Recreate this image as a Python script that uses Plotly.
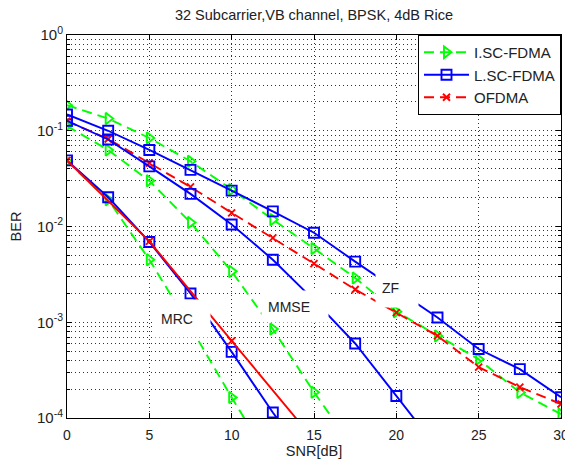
import math
import plotly.graph_objects as go

# ---------------- data ----------------
snr = [0, 2.5, 5, 7.5, 10, 12.5, 15, 17.5, 20, 22.5, 25, 27.5, 30]
snr_coarse = [0, 5, 10, 15]

# ZF
isc_zf = [0.185, 0.134, 0.084, 0.048, 0.0244, 0.0118, 0.0059, 0.0029, 0.00129, 7.2e-4, 4.1e-4, 1.85e-4, 1.1e-4]
lsc_zf = [0.148, 0.1, 0.063, 0.039, 0.0237, 0.0144, 0.0086, 0.0043, 0.0022, 0.00112, 5.25e-4, 3.24e-4, 1.65e-4]
ofdma_zf = [0.126, 0.082, 0.046, 0.0259, 0.0139, 0.0076, 0.0041, 0.0022, 0.00126, 7.2e-4, 3.4e-4, 2.1e-4, 1.4e-4]

# MMSE
isc_mmse = [0.112, 0.063, 0.03, 0.011, 0.0034, 8.5e-4, 1.86e-4, 4.6e-5]
lsc_mmse = [0.127, 0.081, 0.0425, 0.0219, 0.0105, 0.0045, 0.0017, 6.0e-4, 1.7e-4, 4.8e-5]

# MRC
isc_mrc = [0.048, 0.019, 0.0045, 8.9e-4, 1.64e-4, 3.2e-5]
lsc_mrc = [0.049, 0.0202, 0.0069, 0.0020, 4.9e-4, 1.14e-4, 3.0e-5]
ofdma_mrc = [0.049, 0.0070, 6.4e-4, 5.9e-5]   # at snr_coarse

y_tickvals = [1e-4, 1e-3, 1e-2, 1e-1, 1]
y_ticktext = ["10<sup>-4</sup>", "10<sup>-3</sup>", "10<sup>-2</sup>", "10<sup>-1</sup>", "10<sup>0</sup>"]
labels = ["ZF", "MMSE", "MRC"]
label_x = [20.02, 13.83, 7.01]
label_y = [2.28e-3, 1.46e-3, 1.1e-3]
label_w = [42, 66, 55]
label_h = [38, 31, 37]

FONT = "Liberation Sans, Arial, sans-serif"
GREEN = "#00ff00"
BLUE = "#0000ff"
RED = "#ff0000"
DASH = "10px,6px"

styles = {
    "I.SC-FDMA": dict(color=GREEN, dash=DASH, symbol="triangle-right-open", msize=10),
    "L.SC-FDMA": dict(color=BLUE, dash="solid", symbol="square-open", msize=10),
    "OFDMA": dict(color=RED, dash=DASH, symbol="x-thin-open", msize=7),
}

fig = go.Figure()

def add(name, x, y, show, dash=None):
    s = styles[name]
    fig.add_trace(go.Scatter(
        x=x[:len(y)], y=y, mode="lines+markers", name=name,
        legendgroup=name, showlegend=show,
        line=dict(color=s["color"], width=1.9, dash=dash or s["dash"]),
        marker=dict(symbol=s["symbol"], size=s["msize"], color=s["color"],
                    line=dict(color=s["color"], width=1.9)),
    ))

add("I.SC-FDMA", snr, isc_zf, True)
add("L.SC-FDMA", snr, lsc_zf, True)
add("OFDMA", snr, ofdma_zf, True)
add("I.SC-FDMA", snr, isc_mmse, False)
add("L.SC-FDMA", snr, lsc_mmse, False)
add("I.SC-FDMA", snr, isc_mrc, False)
add("L.SC-FDMA", snr, lsc_mrc, False)
add("OFDMA", snr_coarse, ofdma_mrc, False, dash="solid")

for t, lx, ly, w, h in zip(labels, label_x, label_y, label_w, label_h):
    fig.add_annotation(x=lx, y=math.log10(ly), text=t, showarrow=False,
                       bgcolor="white", width=w - 12, height=h - 12, borderpad=6,
                       align="left", valign="middle",
                       font=dict(family=FONT, size=14, color="#222"))

grid = dict(showgrid=True, gridcolor="#333", gridwidth=1, griddash="1px,3px")

# page body has an 8px margin, so the figure is sized/offset to compensate
fig.update_layout(
    width=565, height=453,
    margin=dict(l=59, r=12, t=27, b=43),
    paper_bgcolor="white", plot_bgcolor="white",
    font=dict(family=FONT, size=14, color="black"),
    title=dict(text="32 Subcarrier,VB channel, BPSK, 4dB Rice", x=0.5, xref="paper",
               y=1 - 7 / 453, yref="container", yanchor="middle",
               font=dict(family=FONT, size=14.5, color="#222")),
    showlegend=True,
    legend=dict(x=1, y=1, xanchor="right", yanchor="top", bgcolor="white",
                bordercolor="black", borderwidth=1, itemwidth=45,
                font=dict(family=FONT, size=15, color="#222"),
                tracegroupgap=0),
    xaxis=dict(range=[0, 30], tick0=0, dtick=5, showline=True, linecolor="black",
               linewidth=1, mirror="allticks", ticks="inside", ticklen=5,
               tickcolor="black", zeroline=False, automargin=False,
               ticklabelstandoff=4, tickfont=dict(size=14, color="#222"),
               title=dict(text="SNR[dB]", standoff=2, font=dict(size=14.5, color="#222")),
               **grid),
    yaxis=dict(type="log", range=[-4, 0], tickvals=y_tickvals, ticktext=y_ticktext,
               showline=True, linecolor="black", linewidth=1, mirror="allticks",
               ticks="inside", ticklen=5, tickcolor="black", zeroline=False,
               automargin=False, tickfont=dict(size=15, color="#222"),
               minor=dict(dtick="D1", ticks="inside", ticklen=3, tickcolor="black",
                          showgrid=True, gridcolor="#333", griddash="1px,3px"),
               title=dict(text="BER", standoff=14, font=dict(size=14.5, color="#222")),
               **grid),
)

fig.write_html("out.html")
